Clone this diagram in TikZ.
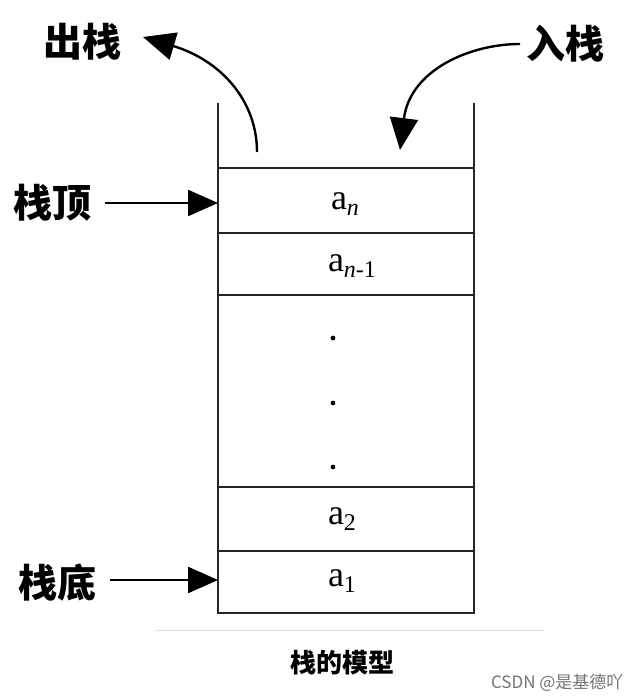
\documentclass[tikz,border=0pt]{standalone}
\usepackage{fontspec}
\setmainfont{Liberation Serif}
\newfontfamily\cjk{Noto Sans CJK SC}
\newfontfamily\cjkb{Noto Sans CJK SC Black}
\usetikzlibrary{arrows.meta}
\begin{document}
\begin{tikzpicture}[x=1pt,y=-1pt,
  wall/.style={line width=2.8pt,draw=black!85},
  lab/.style={font=\cjkb\fontsize{39}{40}\selectfont,inner sep=0pt},
  cell/.style={font=\fontsize{36}{38}\selectfont,inner sep=0pt},
  ptr/.style={line width=2.4pt,-{Triangle[length=30pt,width=26pt]}},
  curv/.style={line width=2.4pt,-{Triangle[length=32pt,width=28pt]}}]
\useasboundingbox (0,0) rectangle (638,700);
% stack walls
\coordinate (tl) at (218,103);
\coordinate (tr) at (474,103);
\coordinate (bl) at (218,613);
\coordinate (br) at (474,613);
\draw[wall] (tl) -- (bl) -- (br) -- (tr);
\foreach \y in {168,233,295,487,551}{\draw[wall] (218,\y) -- (474,\y);}
% cells
\node[cell] (an) at (345,204) {a\raisebox{-0.4ex}{\fontsize{24}{26}\selectfont\textit{n}}};
\node[cell] (an1) at (352,266) {a\raisebox{-0.4ex}{\fontsize{24}{26}\selectfont\textit{n}-1}};
\node[cell] (a2) at (342,519) {a\raisebox{-0.4ex}{\fontsize{24}{26}\selectfont 2}};
\node[cell] (a1) at (342,581) {a\raisebox{-0.4ex}{\fontsize{24}{26}\selectfont 1}};
\foreach \y/\n in {338/d1,403/d2,467/d3}{\fill (333,\y) circle (2.4pt) coordinate (\n);}
% labels
\node[lab] (out) at (82,42) {出栈};
\node[lab] (in) at (565,44) {入栈};
\node[lab] (top) at (52,203) {栈顶};
\node[lab] (bot) at (57,583) {栈底};
% pointers
\coordinate (topend) at (218,203);
\coordinate (botend) at (218,580);
\draw[ptr] (top.east) ++(14,0) coordinate (ts) -- (topend);
\draw[ptr] (bot.east) ++(14,-3) coordinate (bs) -- (botend);
% curved arrows
\coordinate (outs) at (257,152);
\coordinate (outh) at (143,37);
\draw[curv] (outs) .. controls (257,100) and (220,60) .. (outh);
\coordinate (ins) at (520,44);
\coordinate (inh) at (400,150);
\draw[curv] (ins) .. controls (470,44) and (410,70) .. (inh);
% caption
\draw[black!12,line width=0.8pt] (155,630) -- (545,630);
\node[font=\cjkb\fontsize{26}{28}\selectfont] (cap) at (342,663) {栈的模型};
\node[font=\cjk\fontsize{17}{19}\selectfont,text=black!55,anchor=east] (wm) at (627,683) {CSDN @是基德吖};
\end{tikzpicture}
\end{document}
